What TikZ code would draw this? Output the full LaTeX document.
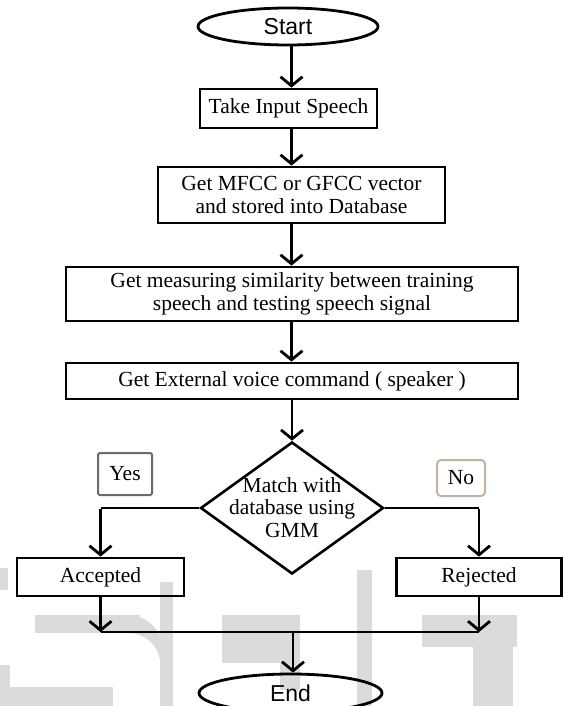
\documentclass[tikz,border=0pt]{standalone}
\usepackage{fontspec}
\setmainfont{Liberation Serif}
\newfontfamily\arialfont{Liberation Sans}
\usetikzlibrary{shapes.geometric,arrows.meta}
\begin{document}
\begin{tikzpicture}[x=1pt,y=-1pt,
  box/.style={draw,line width=2.8pt,rectangle,inner sep=0pt,align=center,font=\fontsize{21.5}{22.5}\selectfont},
  term/.style={draw,line width=2.8pt,ellipse,inner sep=0pt,font=\arialfont\fontsize{23}{25}\selectfont},
  decision/.style={draw,line width=2.6pt,diamond,inner sep=0pt,minimum width=183pt,minimum height=132pt},
  txt/.style={inner sep=0pt,align=center,font=\fontsize{21.5}{22.5}\selectfont},
  arr/.style={line width=2.8pt,-{Straight Barb[length=9pt,width=22pt]}},
  link/.style={line width=1.8pt},
  wm/.style={fill=black!14,draw=none}]
\useasboundingbox (0,0) rectangle (563,706);
% watermark
\fill[wm] (35,615) rectangle (140,633);
\fill[wm] (128,615) .. controls (150,615) and (166,635) .. (166,660) -- (160,660) .. controls (158,645) and (145,633) .. (128,633) -- cycle;
\fill[wm] (160,582) rectangle (173,706);
\fill[wm] (0,687) rectangle (113,706);
\fill[wm] (0,665) rectangle (10,687);
\fill[wm] (0,568) rectangle (8,590);
\fill[wm] (222,615) rectangle (300,663);
\fill[wm] (280,663) rectangle (300,690);
\fill[wm] (357,570) rectangle (372,706);
\fill[wm] (422,615) rectangle (517,647);
\fill[wm] (473,647) rectangle (513,706);
% nodes
\node[term,minimum width=180pt,minimum height=37pt] (start) at (288,26.5) {Start};
\node[box,minimum width=177pt,minimum height=39pt] (take) at (288.5,108.5) {Take Input Speech};
\node[box,minimum width=287pt,minimum height=56pt] (mfcc) at (301.5,195) {Get MFCC or GFCC vector\\and stored into Database};
\node[box,minimum width=452pt,minimum height=54pt] (meas) at (292,294) {Get measuring similarity between training\\speech and testing speech signal};
\node[box,minimum width=452pt,minimum height=36pt] (ext) at (292,381) {Get External voice command ( speaker )};
\node[decision] (dec) at (292,508) {};
\node[txt] (dect) at (292,507.5) {Match with\\database using\\GMM};
\node[box,draw=black!58,line width=2pt,rounded corners=1.5pt,minimum width=54pt,minimum height=42pt] (yes) at (125,474) {Yes};
\node[box,draw=brown!45!gray!60,line width=2pt,rounded corners=4pt,minimum width=48pt,minimum height=36pt] (no) at (461,478) {No};
\node[box,minimum width=167pt,minimum height=38pt] (acc) at (100.5,577) {Accepted};
\node[box,minimum width=165pt,minimum height=38pt] (rej) at (479,577) {Rejected};
\node[term,minimum width=183pt,minimum height=38pt] (end) at (290.5,693) {End};
% connectors
\coordinate (colx) at (291.5,0);
\draw[arr] (start.south -| colx) -- (take.north -| colx);
\draw[arr] (take.south -| colx) -- (mfcc.north -| colx);
\draw[arr] (mfcc.south -| colx) -- (meas.north -| colx);
\draw[arr] (meas.south -| colx) -- (ext.north -| colx);
\draw[arr] (ext.south -| dec.north) -- (dec.north);
\coordinate (lc) at (dec.west -| acc.north);
\coordinate (rc) at (dec.east -| rej.north);
\draw[link] (dec.west) -- (lc);
\draw[link] (dec.east) -- (rc);
\draw[arr] ([yshift=-1pt]lc) -- (acc.north);
\draw[arr] ([yshift=-1pt]rc) -- (rej.north);
\coordinate (aj) at (100.5,632);
\coordinate (rj) at (479,632);
\coordinate (mj) at (293,632);
\draw[arr] (acc.south) -- (aj);
\draw[arr] (rej.south) -- (rj);
\draw[link] (aj) -- (rj);
\draw[arr] (mj) -- (end.north -| mj);
\end{tikzpicture}
\end{document}
